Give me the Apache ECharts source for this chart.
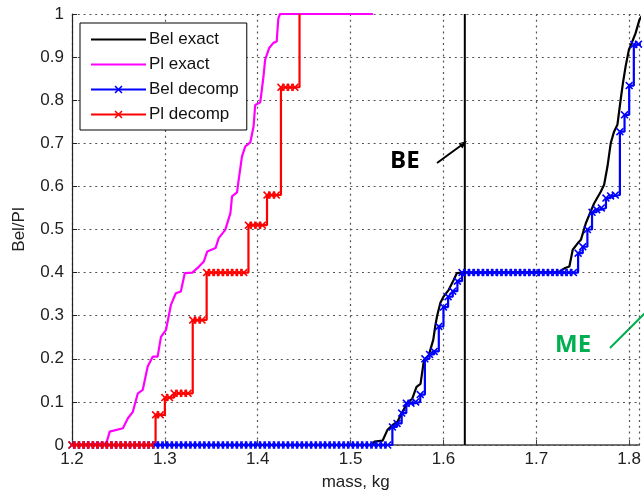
<!DOCTYPE html>
<html>
<head>
<meta charset="utf-8">
<script src="https://cdn.jsdelivr.net/npm/echarts/dist/echarts.min.js"></script>
<style>
  html, body { margin: 0; padding: 0; background: #fff; }
  #main { width: 644px; height: 496px; }
</style>
</head>
<body>
<div id="main"></div>
<script>
// values (mass in kg, Bel/Pl in 0..1)
const belExact = [
  [1.2, 0], [1.524, 0], [1.5255, 0.008], [1.5344, 0.01], [1.5397, 0.035], [1.545, 0.046],
  [1.5504, 0.054], [1.5558, 0.077], [1.561, 0.097], [1.5665, 0.108], [1.571, 0.135],
  [1.5753, 0.142], [1.579, 0.197], [1.5843, 0.209], [1.589, 0.244], [1.5914, 0.279],
  [1.5932, 0.3], [1.5967, 0.33], [1.6003, 0.345], [1.6057, 0.36], [1.611, 0.383],
  [1.6145, 0.399], [1.62, 0.4], [1.725, 0.402], [1.7303, 0.41], [1.7356, 0.414],
  [1.7392, 0.453], [1.7445, 0.468], [1.748, 0.476], [1.7534, 0.515], [1.757, 0.534],
  [1.7623, 0.561], [1.7695, 0.588], [1.773, 0.604], [1.7766, 0.646], [1.7801, 0.7],
  [1.7837, 0.727], [1.7873, 0.743], [1.7908, 0.801], [1.7933, 0.84], [1.7962, 0.879],
  [1.7997, 0.917], [1.8033, 0.936], [1.8068, 0.955], [1.8111, 0.987], [1.815, 1]
];

const plExact = [
  [1.2, 0], [1.237, 0.004], [1.2406, 0.031], [1.2548, 0.039], [1.2602, 0.062],
  [1.2655, 0.077], [1.2709, 0.12], [1.2762, 0.128], [1.2815, 0.182], [1.2869, 0.205],
  [1.2922, 0.205], [1.2958, 0.251], [1.3012, 0.267], [1.3065, 0.325], [1.3118, 0.352],
  [1.3172, 0.356], [1.3215, 0.399], [1.3296, 0.4], [1.3368, 0.414], [1.342, 0.426],
  [1.3457, 0.449], [1.3546, 0.457], [1.358, 0.48], [1.365, 0.499], [1.3706, 0.538],
  [1.3723, 0.577], [1.3777, 0.586], [1.3795, 0.615], [1.383, 0.669], [1.3866, 0.693],
  [1.392, 0.702], [1.3955, 0.739], [1.3973, 0.789], [1.4027, 0.795], [1.4062, 0.855],
  [1.408, 0.894], [1.4123, 0.921], [1.4169, 0.933], [1.4204, 0.936], [1.4222, 0.99],
  [1.424, 1], [1.524, 1]
];

const belDecomp = [
  [1.200, 0], [1.205, 0], [1.210, 0], [1.215, 0], [1.220, 0], [1.225, 0], [1.230, 0],
  [1.235, 0], [1.240, 0], [1.245, 0], [1.250, 0], [1.255, 0], [1.260, 0], [1.265, 0],
  [1.270, 0], [1.275, 0], [1.280, 0], [1.285, 0], [1.290, 0], [1.295, 0], [1.300, 0],
  [1.305, 0], [1.310, 0], [1.315, 0], [1.320, 0], [1.325, 0], [1.330, 0], [1.335, 0],
  [1.340, 0], [1.345, 0], [1.350, 0], [1.355, 0], [1.360, 0], [1.365, 0], [1.370, 0],
  [1.375, 0], [1.380, 0], [1.385, 0], [1.390, 0], [1.395, 0], [1.400, 0], [1.405, 0],
  [1.410, 0], [1.415, 0], [1.420, 0], [1.425, 0], [1.430, 0], [1.435, 0], [1.440, 0],
  [1.445, 0], [1.450, 0], [1.455, 0], [1.460, 0], [1.465, 0], [1.470, 0], [1.475, 0],
  [1.480, 0], [1.485, 0], [1.490, 0], [1.495, 0], [1.500, 0], [1.505, 0], [1.510, 0],
  [1.515, 0], [1.520, 0], [1.525, 0], [1.530, 0], [1.535, 0], [1.540, 0],
  [1.545, 0.042], [1.550, 0.05], [1.555, 0.074], [1.560, 0.097], [1.565, 0.097],
  [1.570, 0.1], [1.575, 0.117], [1.580, 0.2], [1.585, 0.21], [1.590, 0.217],
  [1.595, 0.275], [1.600, 0.32], [1.605, 0.344], [1.610, 0.357], [1.615, 0.38],
  [1.620, 0.4], [1.625, 0.4], [1.630, 0.4], [1.635, 0.4], [1.640, 0.4], [1.645, 0.4],
  [1.650, 0.4], [1.655, 0.4], [1.660, 0.4], [1.665, 0.4], [1.670, 0.4], [1.675, 0.4],
  [1.680, 0.4], [1.685, 0.4], [1.690, 0.4], [1.695, 0.4], [1.700, 0.4], [1.705, 0.4],
  [1.710, 0.4], [1.715, 0.4], [1.720, 0.4], [1.725, 0.4], [1.730, 0.4], [1.735, 0.4],
  [1.740, 0.4], [1.745, 0.445], [1.750, 0.46], [1.755, 0.5], [1.760, 0.54],
  [1.765, 0.546], [1.770, 0.55], [1.775, 0.573], [1.780, 0.578], [1.785, 0.58],
  [1.790, 0.727], [1.795, 0.766], [1.800, 0.834], [1.805, 0.929], [1.810, 0.93],
  [1.815, 1]
];

const plDecomp = [
  [1.200, 0], [1.205, 0], [1.210, 0], [1.215, 0], [1.220, 0], [1.225, 0], [1.230, 0],
  [1.235, 0], [1.240, 0], [1.245, 0], [1.250, 0], [1.255, 0], [1.260, 0], [1.265, 0],
  [1.270, 0], [1.275, 0], [1.280, 0], [1.285, 0],
  [1.290, 0.07], [1.295, 0.07], [1.300, 0.11], [1.305, 0.11],
  [1.310, 0.12], [1.315, 0.12], [1.320, 0.12], [1.325, 0.12],
  [1.330, 0.29], [1.335, 0.29], [1.340, 0.29],
  [1.345, 0.4], [1.350, 0.4], [1.355, 0.4], [1.360, 0.4], [1.365, 0.4], [1.370, 0.4],
  [1.375, 0.4], [1.380, 0.4], [1.385, 0.4],
  [1.390, 0.51], [1.395, 0.51], [1.400, 0.51], [1.405, 0.51],
  [1.410, 0.58], [1.415, 0.58], [1.420, 0.58],
  [1.425, 0.83], [1.430, 0.83], [1.435, 0.83], [1.440, 0.83],
  [1.445, 1]
];

const beMass = 1.623;
const beLine = [[beMass, 0], [beMass, 1]];

const legendNames = ['Bel exact', 'Pl exact', 'Bel decomp', 'Pl decomp'];

const FONT = '"Liberation Sans", Arial, sans-serif';
const xMark = 'path://M0,1.4L1.4,0L5,3.6L8.6,0L10,1.4L6.4,5L10,8.6L8.6,10L5,6.4L1.4,10L0,8.6L3.6,5Z';

// the last decomp point sits on the top line without a marker
const plDecompData = plDecomp.map((p, i) =>
  i === plDecomp.length - 1 ? { value: p, symbol: 'none' } : p);

const myChart = echarts.init(document.getElementById('main'));

const gridLine = { show: true, lineStyle: { color: '#555', width: 1.2, type: [2, 3.8] } };

// exact curves have no marker, so hide the legend's symbol for them
const legendData = legendNames.map((n) =>
  n.indexOf('exact') >= 0
    ? { name: n, itemStyle: { opacity: 0, borderWidth: 0, color: 'transparent' } }
    : { name: n });

const option = {
  animation: false,
  backgroundColor: '#fff',
  grid: { left: 72, top: 14, right: 0, bottom: 51 },
  legend: {
    data: legendData,
    orient: 'vertical',
    left: 80,
    top: 23,
    padding: [8, 8, 7, 10],
    itemWidth: 55,
    itemHeight: 10,
    itemGap: 8,
    backgroundColor: '#fff',
    borderColor: '#000',
    borderWidth: 1,
    borderRadius: 0,
    textStyle: { fontFamily: FONT, fontSize: 17, color: '#111', padding: [0, 0, 0, -2] },
  },
  xAxis: {
    type: 'value',
    min: 1.2,
    max: 1.811,
    interval: 0.1,
    name: 'mass, kg',
    nameLocation: 'middle',
    nameGap: 29,
    nameTextStyle: { fontFamily: FONT, fontSize: 17, color: '#222' },
    axisLine: { show: true, onZero: false, lineStyle: { color: '#444', width: 1.5 } },
    axisTick: { show: true, inside: true, length: 5, lineStyle: { color: '#444' } },
    axisLabel: { fontFamily: FONT, fontSize: 17, color: '#222', margin: 6, showMaxLabel: false },
    splitLine: gridLine,
  },
  yAxis: {
    type: 'value',
    min: 0,
    max: 1,
    interval: 0.1,
    name: 'Bel/Pl',
    nameLocation: 'middle',
    nameGap: 44,
    nameTextStyle: { fontFamily: FONT, fontSize: 17, color: '#222' },
    axisLine: { show: true, lineStyle: { color: '#222', width: 1.2 } },
    axisTick: { show: true, inside: true, length: 5, lineStyle: { color: '#222' } },
    axisLabel: { fontFamily: FONT, fontSize: 17, color: '#222', margin: 8 },
    splitLine: gridLine,
  },
  series: [
    {
      name: 'Bel exact', type: 'line', data: belExact, symbol: 'none',
      lineStyle: { color: '#000', width: 2.2 }, itemStyle: { color: '#000' },
    },
    {
      name: 'Pl exact', type: 'line', data: plExact, symbol: 'none',
      lineStyle: { color: '#ff00ff', width: 2.2 }, itemStyle: { color: '#ff00ff' },
    },
    {
      name: 'Bel decomp', type: 'line', data: belDecomp, step: 'end',
      symbol: xMark, symbolSize: 8,
      lineStyle: { color: '#0000ff', width: 2.2 }, itemStyle: { color: '#0000ff' },
    },
    {
      name: 'Pl decomp', type: 'line', data: plDecompData, step: 'end',
      symbol: xMark, symbolSize: 8,
      lineStyle: { color: '#ff0000', width: 2.2 }, itemStyle: { color: '#ff0000' },
    },
    {
      name: 'BE', type: 'line', data: beLine, symbol: 'none',
      lineStyle: { color: '#000', width: 2 }, itemStyle: { color: '#000' },
    },
  ],
  graphic: [
    {
      type: 'text', left: 390, top: 149, silent: true,
      style: { text: 'BE', font: 'bold 24px "Open Sans", sans-serif', fill: '#000' },
    },
    {
      type: 'line', silent: true,
      shape: { x1: 437, y1: 163, x2: 462, y2: 144.7 },
      style: { stroke: '#000', lineWidth: 2 },
    },
    {
      type: 'polygon', silent: true,
      shape: { points: [[467, 141], [462.3, 148.5], [458.6, 143.2]] },
      style: { fill: '#000' },
    },
    {
      type: 'text', left: 555, top: 333, silent: true,
      style: { text: 'ME', font: 'bold 24px "Open Sans", sans-serif', fill: '#00b050' },
    },
    {
      type: 'line', silent: true,
      shape: { x1: 610, y1: 348, x2: 646, y2: 312 },
      style: { stroke: '#00b050', lineWidth: 2 },
    },
  ],
};

myChart.setOption(option);
</script>
</body>
</html>
